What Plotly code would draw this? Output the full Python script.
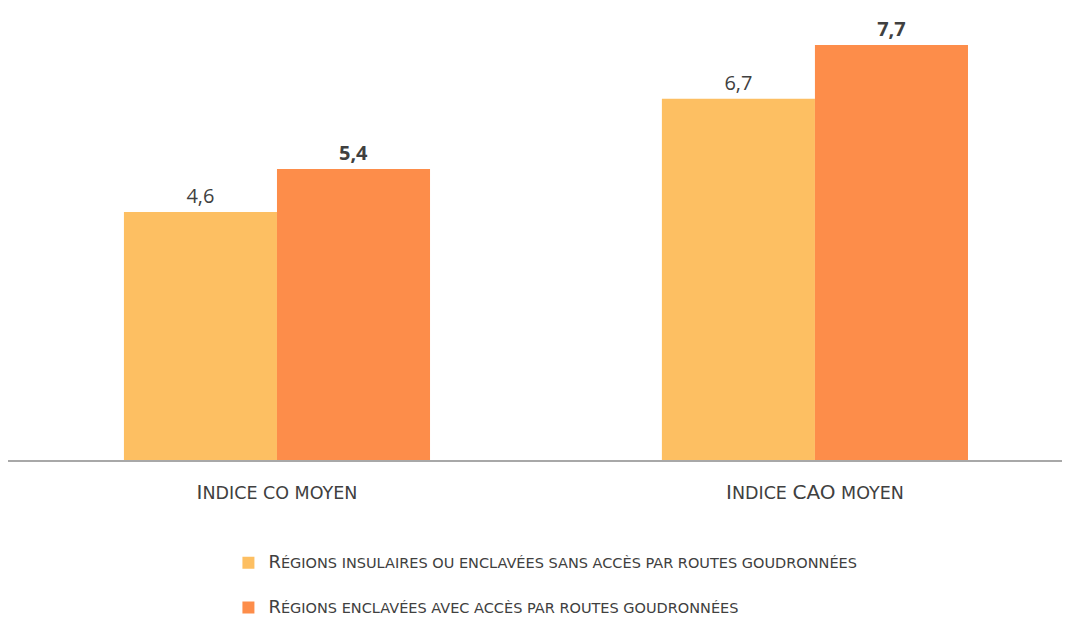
import plotly.graph_objects as go

# data
categories = ["Indice CO moyen", "Indice CAO moyen"]
tick_labels = [
    "<span style='font-size:20px'>I</span>NDICE CO MOYEN",
    "<span style='font-size:20px'>I</span>NDICE <span style='font-size:20px'>CAO</span> MOYEN",
]
series_names = [
    "<span style='font-size:18px'>R</span>ÉGIONS INSULAIRES OU ENCLAVÉES SANS ACCÈS PAR ROUTES GOUDRONNÉES",
    "<span style='font-size:18px'>R</span>ÉGIONS ENCLAVÉES AVEC ACCÈS PAR ROUTES GOUDRONNÉES",
]
sans_routes = [4.6, 6.7]
avec_routes = [5.4, 7.7]
colors = ["#FDBF62", "#FD8D4A"]


def fmt(v, bold=False):
    s = f"{v:.1f}".replace(".", ",")
    return f"<b>{s}</b>" if bold else s


fig = go.Figure()
for i, (name, vals) in enumerate(zip(series_names, [sans_routes, avec_routes])):
    fig.add_trace(go.Bar(
        x=categories, y=vals, name=name,
        marker=dict(color=colors[i], line=dict(width=0)),
        text=[fmt(v, bold=(i == 1)) for v in vals],
        textposition="outside",
        textfont=dict(size=20, color="#404040", family="Open Sans"),
        cliponaxis=False,
        legendgroup=str(i),
    ))

fig.update_layout(
    width=1070, height=620,
    margin=dict(l=0, r=0, t=0, b=168),
    paper_bgcolor="white", plot_bgcolor="white",
    barmode="group", bargap=0.431, bargroupgap=0,
    font=dict(family="DejaVu Sans", color="#404040", size=14),
    legend=dict(
        x=0.206, y=-0.192, xanchor="left", yanchor="top",
        font=dict(size=14.5, color="#404040", family="DejaVu Sans"),
        tracegroupgap=23, itemwidth=30,
    ),
    xaxis=dict(
        range=[-0.5, 1.489], tickmode="array", tickvals=categories,
        ticktext=tick_labels, showline=True, linecolor="#A8A8A8", linewidth=1.5,
        ticks="", ticklabelstandoff=16, tickfont=dict(size=17.5, color="#404040"),
        showgrid=False, zeroline=False,
    ),
    yaxis=dict(range=[0, 8.386], visible=False, showgrid=False),
    showlegend=True,
)

fig.write_html("out.html")
